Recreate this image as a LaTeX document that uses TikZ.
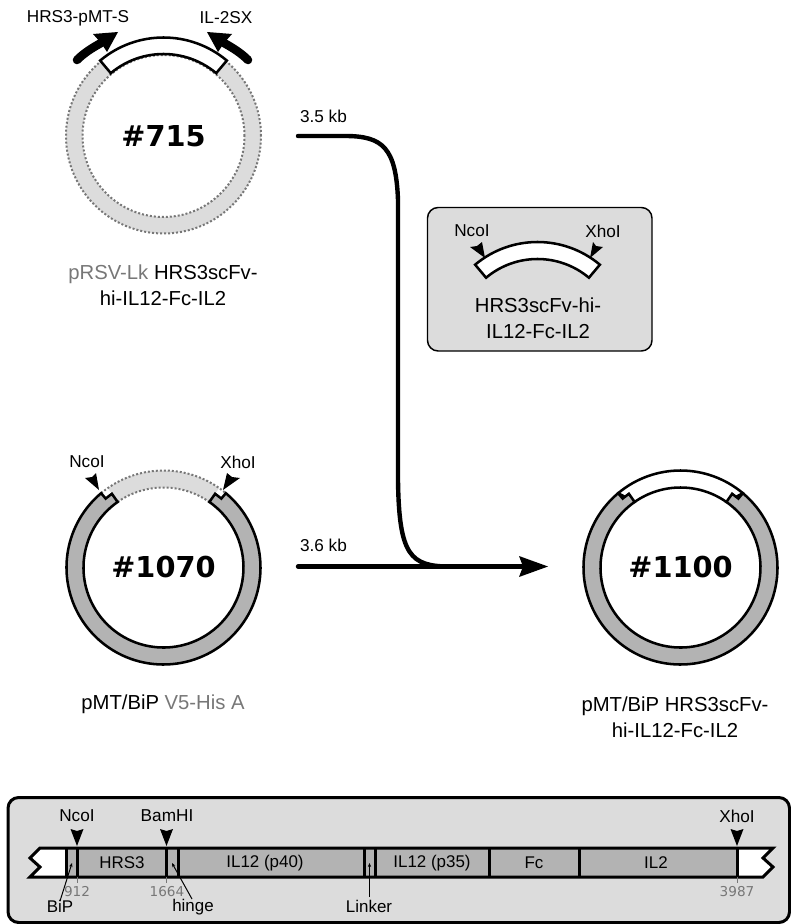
\documentclass[tikz,border=0pt]{standalone}
\usepackage{fontspec}
\setmainfont{Liberation Sans}
\newfontfamily\dejavu{DejaVu Sans}
\usetikzlibrary{arrows.meta}
\definecolor{panelgray}{HTML}{DCDCDC}
\definecolor{ringgray}{HTML}{B3B3B3}
\definecolor{textgray}{HTML}{777777}
\newcommand{\sitemark}[4]{\fill[black] #1 -- #2 -- #3 -- #4 -- cycle;}
\tikzset{
  every node/.style={inner sep=0pt,outer sep=0pt,align=center},
  lab/.style={font=\fontsize{12.9}{15}\selectfont},
  barlab/.style={font=\fontsize{12.7}{15}\selectfont},
  captxt/.style={font=\fontsize{15.2}{19.5}\selectfont},
  numtxt/.style={font=\dejavu\fontsize{10.2}{12}\selectfont,text=textgray},
  plasmid/.style={font=\dejavu\bfseries\fontsize{21.6}{26}\selectfont},
  outl/.style={draw=black,line width=1.9pt},
  barline/.style={draw=black,line width=2.25pt},
  dots/.style={draw=textgray,line width=1.5pt,dash pattern=on 1.5pt off 1.5pt},
  panel/.style={draw=black,fill=panelgray,rounded corners=8pt},
  lead/.style={line width=0.75pt,-{Stealth[length=3pt,width=2.5pt]}},
  flow/.style={line width=3.3pt,line cap=round},
  tickmark/.style={draw=textgray,line width=0.75pt},
  primer/.style={line width=6.4pt,line cap=round}
}
\begin{document}
\begin{tikzpicture}[x=0.75pt,y=0.75pt]
\useasboundingbox (0,-924) rectangle (791,0);

% plasmid 715
\begin{scope}[shift={(163.5,-136)}]
  \fill[panelgray] (0,0) circle[radius=97.5];
  \fill[white] (0,0) circle[radius=81];
  \draw[dots] (0,0) circle[radius=97.5];
  \draw[dots] (0,0) circle[radius=81];
  \draw[outl,fill=white] (130:98.5) arc[start angle=130,end angle=50,radius=98.5] -- (50:82) arc[start angle=50,end angle=130,radius=82] -- cycle;
  \node[plasmid] (p715) at (0,0) {\#715};
\end{scope}
\coordinate (pl1) at (77,-60);
\coordinate (pl2) at (101,-43);
\coordinate (pr1) at (248,-60);
\coordinate (pr2) at (224,-43);
\draw[primer] (pl1) .. controls (84,-53) and (92,-48) .. (pl2);
\draw[primer] (pr1) .. controls (241,-53) and (233,-48) .. (pr2);
\sitemark{(118,-32)}{(93,-34)}{(101,-43)}{(107,-52)}
\sitemark{(207,-32)}{(232,-34)}{(224,-43)}{(218,-52)}
\node[lab] (t1) at (78,-18) {HRS3-pMT-S};
\node[lab] (t2) at (226,-18) {IL-2SX};
\node[captxt] (c715) at (163,-285) {\textcolor{textgray}{pRSV-Lk} HRS3scFv-\\hi-IL12-Fc-IL2};

% plasmid 1070
\begin{scope}[shift={(163.5,-567.5)}]
  \fill[white] (0,0) circle[radius=80];
  \fill[panelgray] (125:97) arc[start angle=125,end angle=55,radius=97] -- (55:80) arc[start angle=55,end angle=125,radius=80] -- cycle;
  \draw[dots] (130:97) arc[start angle=130,end angle=50,radius=97];
  \draw[dots] (125:80) arc[start angle=125,end angle=55,radius=80];
  \draw[outl,fill=ringgray] (50:97) arc[start angle=50,end angle=-230,radius=97] -- (130:90) -- (125:90) -- (125:80) arc[start angle=-235,end angle=55,radius=80] -- (55:90) -- (50:90) -- cycle;
  \node[plasmid] (p1070) at (0,0) {\#1070};
\end{scope}
\sitemark{(99,-490)}{(85,-478)}{(92,-477)}{(96,-473)}
\sitemark{(223,-490)}{(240,-478)}{(232,-477)}{(227,-473)}
\node[lab] (n1070) at (87,-462) {NcoI};
\node[lab] (x1070) at (238,-462) {XhoI};
\node[captxt] (c1070) at (163,-704) {pMT/BiP \textcolor{textgray}{V5-His A}};

% plasmid 1100
\begin{scope}[shift={(680.5,-567.5)}]
  \draw[outl,fill=white] (130:97) arc[start angle=130,end angle=50,radius=97] -- (55:80) arc[start angle=55,end angle=125,radius=80] -- cycle;
  \draw[outl,fill=ringgray] (50:97) arc[start angle=50,end angle=-230,radius=97] -- (130:90) -- (125:90) -- (125:80) arc[start angle=-235,end angle=55,radius=80] -- (55:90) -- (50:90) -- cycle;
  \node[plasmid] (p1100) at (0,0) {\#1100};
\end{scope}
\node[captxt] (c1100) at (675,-717) {pMT/BiP HRS3scFv-\\hi-IL12-Fc-IL2};

% insert panel
\draw[panel,line width=1.1pt] (427.5,-207.5) rectangle (652,-351);
\begin{scope}[shift={(537.5,-339)}]
  \draw[outl,fill=white] (130:97) arc[start angle=130,end angle=50,radius=97] -- (50:80) arc[start angle=50,end angle=130,radius=80] -- cycle;
\end{scope}
\sitemark{(485,-258)}{(470,-247)}{(477,-246)}{(482,-242)}
\sitemark{(590,-258)}{(603,-247)}{(596,-246)}{(593,-242)}
\node[lab] (nins) at (472,-231) {NcoI};
\node[lab] (xins) at (603,-231) {XhoI};
\node[captxt] (cins) at (538,-318.5) {HRS3scFv-hi-\\IL12-Fc-IL2};

% flows
\coordinate (a1) at (298,-136);
\coordinate (a2) at (298,-566.5);
\coordinate (a3) at (522,-566.5);
\coordinate (a4) at (450,-566.5);
\draw[flow] (a1) -- (345,-136) .. controls (383,-136) and (396,-148) .. (398,-200) -- (398,-480) .. controls (399,-555) and (410,-566.5) .. (a4);
\draw[flow] (a2) -- (a3);
\sitemark{(548,-566.5)}{(519,-556)}{(523,-566.5)}{(519,-577)}
\node[lab,anchor=west] (l35) at (300,-116) {3.5 kb};
\node[lab,anchor=west] (l36) at (300,-545) {3.6 kb};

% bottom panel
\draw[panel,line width=2.25pt] (8,-797.5) rectangle (789.5,-922.5);
\fill[white] (40,-848) -- (30,-858) -- (40,-867) -- (30,-877) -- (763,-877) -- (773,-867) -- (763,-858) -- (773,-848) -- cycle;
\fill[ringgray] (66,-848) rectangle (737,-877);
\draw[barline,line join=miter] (40,-848) -- (30,-858) -- (40,-867) -- (30,-877) -- (763,-877) -- (773,-867) -- (763,-858) -- (773,-848) -- cycle;
\foreach \px in {66,77,166.5,178,364,375,489,579,737}
  \draw[barline] (\px,-848) -- (\px,-877);
\foreach \px in {77,166.5,737}{
  \draw[tickmark] (\px,-877) -- (\px,-883);
  \sitemark{(\px,-846)}{(\px-6.5,-829)}{(\px,-831)}{(\px+6.5,-829)}
}
\node[barlab] (b1) at (122,-863) {HRS3};
\node[barlab] (b2) at (265,-863) {IL12 (p40)};
\node[barlab] (b3) at (432,-863) {IL12 (p35)};
\node[barlab] (b4) at (534,-863) {Fc};
\node[barlab] (b5) at (656,-863) {IL2};
\node[lab] (s1) at (77,-816) {NcoI};
\node[lab] (s2) at (167,-816) {BamHI};
\node[lab] (s3) at (737,-816) {XhoI};
\node[numtxt] (m1) at (77,-891.5) {912};
\node[numtxt] (m2) at (167,-891.5) {1664};
\node[numtxt] (m3) at (737,-891.5) {3987};
\node[barlab] (bip) at (60,-906.5) {BiP};
\node[barlab] (hin) at (193,-907) {hinge};
\node[barlab] (lnk) at (369,-906.5) {Linker};
\coordinate (tb) at (72,-863);
\coordinate (th) at (172,-863);
\coordinate (tl) at (369.5,-863);
\draw[lead] (60,-901) -- (tb);
\draw[lead] (192,-899) -- (th);
\draw[lead] (369.5,-897) -- (tl);
\end{tikzpicture}
\end{document}
